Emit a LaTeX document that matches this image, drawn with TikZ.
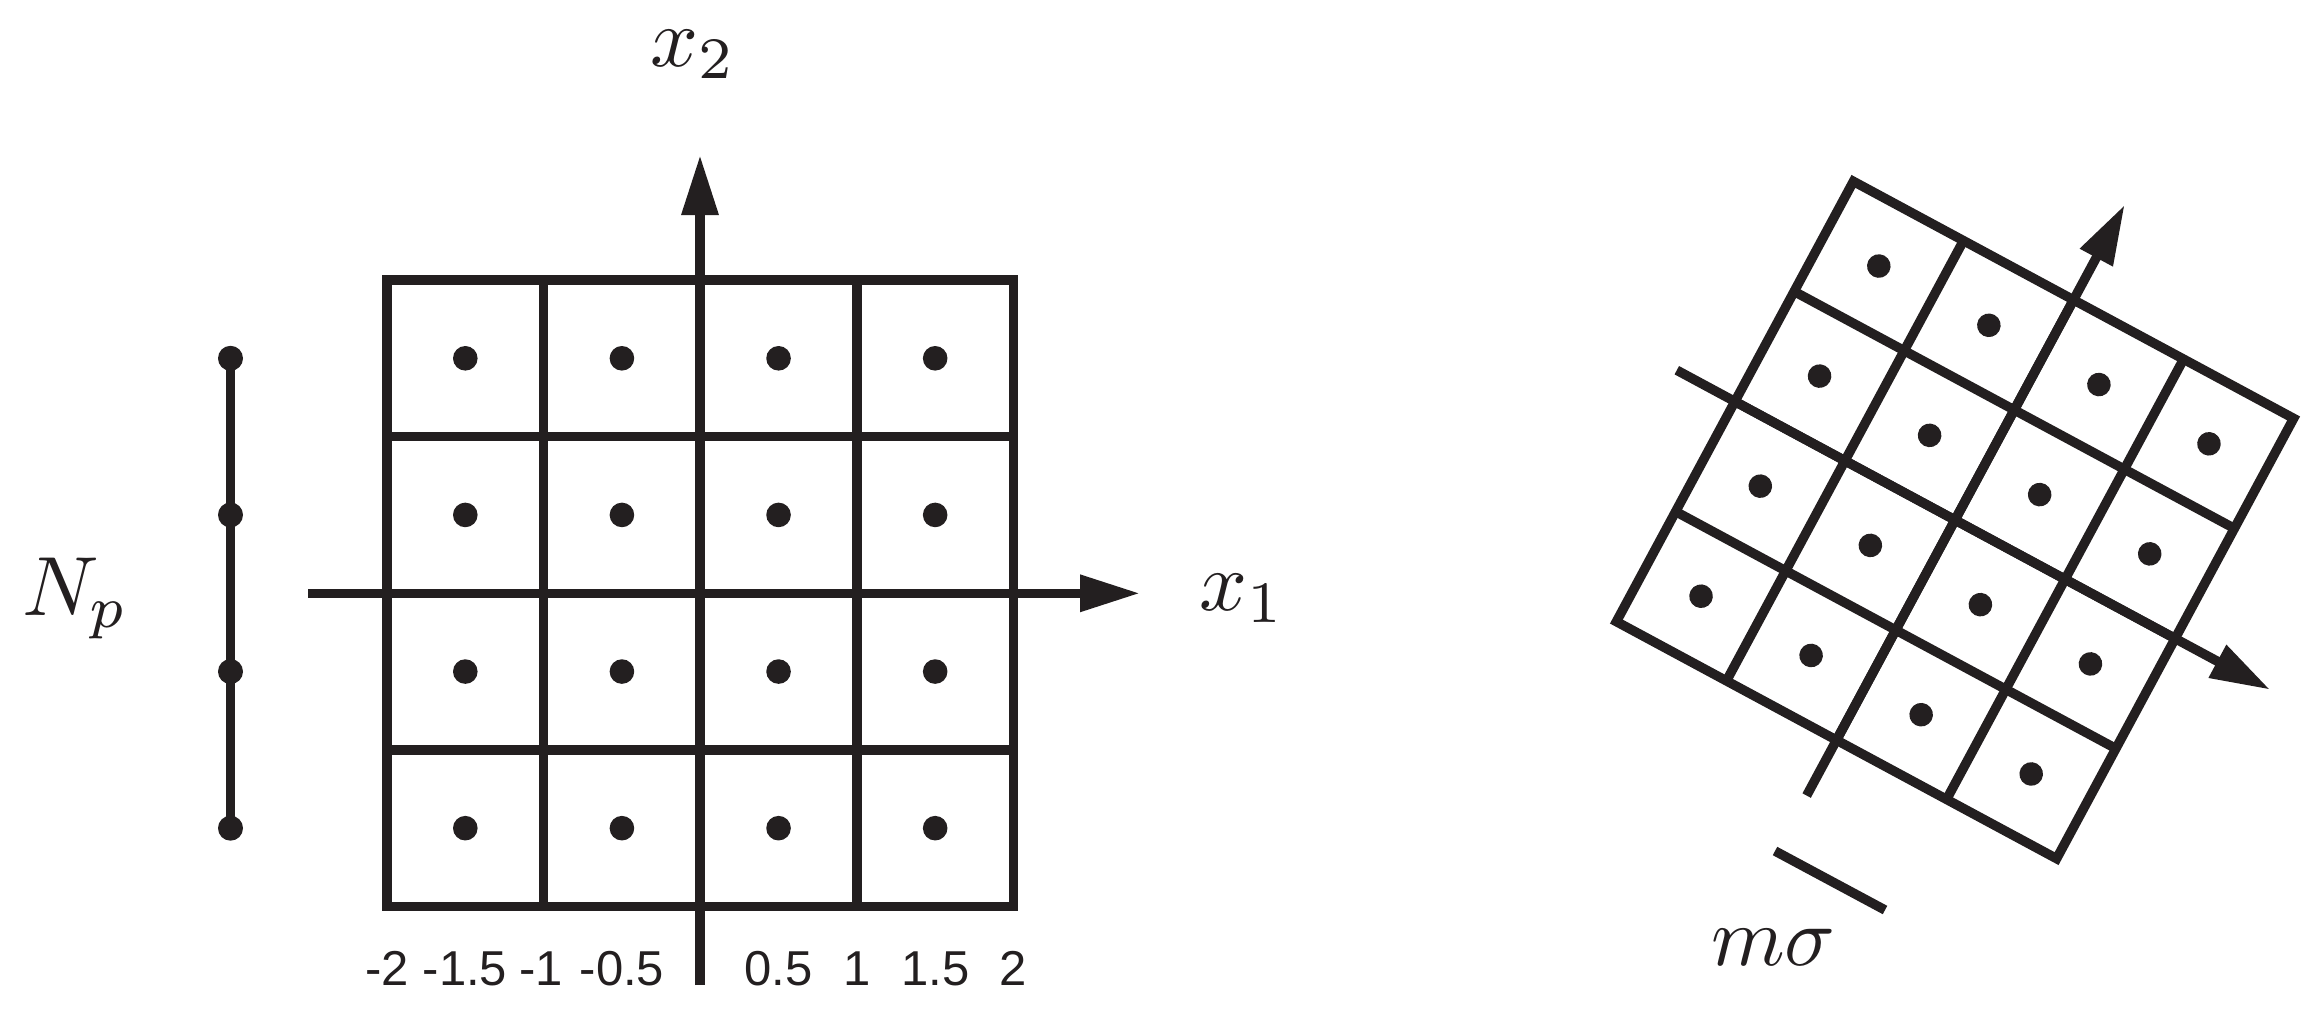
\documentclass[tikz,border=0pt]{standalone}
\usepackage{graphicx}
\usepackage{fontspec}
\newfontfamily\numfont{Liberation Sans}
\usetikzlibrary{arrows.meta}
\definecolor{ink}{RGB}{35,31,32}
\newcommand{\biglabel}[1]{\scalebox{8.4}{\fontsize{10}{12}\selectfont$#1$}}
\begin{document}
\begin{tikzpicture}[x=1pt,y=-1pt,
  gridline/.style={draw=ink, line width=9.5pt},
  axisarrow/.style={draw=ink, line width=9.5pt, -{Triangle[length=60pt,width=35pt]}},
  dot/.style={fill=ink},
  mathlabel/.style={text=ink, inner sep=0pt, anchor=base west},
  numlabel/.style={text=ink, inner sep=0pt, anchor=base, font=\numfont\fontsize{49}{58}\selectfont}]
\useasboundingbox (0,0) rectangle (2322,1023);

% ---------- left grid ----------
\draw[gridline] (387,280) rectangle (1013.5,906.5);
\foreach \i in {1,2,3} {
  \draw[gridline] ({387+156.625*\i},280) -- ({387+156.625*\i},906.5);
  \draw[gridline] (387,{280+156.625*\i}) -- (1013.5,{280+156.625*\i});
}
\foreach \i in {0,...,3} \foreach \j in {0,...,3}
  \fill[dot] ({465.3+156.625*\i},{358.3+156.625*\j}) circle (12.3);

% axes
\coordinate (x2s) at (700,985);
\coordinate (x2e) at (700,155);
\coordinate (x1s) at (308,593.3);
\coordinate (x1e) at (1140,593.3);
\draw[axisarrow] (x2s) -- (x2e);
\draw[axisarrow] (x1s) -- (x1e);

% N_p line
\coordinate (np1) at (230.5,358.3);
\coordinate (np4) at (230.5,828.2);
\draw[gridline] (np1) -- (np4);
\foreach \j in {0,...,3}
  \fill[dot] (230.5,{358.3+156.625*\j}) circle (12.5);

% labels
\node[mathlabel] (lx2) at (650,66) {\biglabel{x_2}};
\node[mathlabel] (lx1) at (1199,610) {\biglabel{x_1}};
\node[mathlabel] (lNp) at (22,615) {\biglabel{N_p}};
\node[mathlabel] (lms) at (1711,965) {\biglabel{m\sigma}};

\node[numlabel] (n1) at (387,985) {-2};
\node[numlabel] (n2) at (465,985) {-1.5};
\node[numlabel] (n3) at (541,985) {-1};
\node[numlabel] (n4) at (622,985) {-0.5};
\node[numlabel] (n5) at (778.5,985) {0.5};
\node[numlabel] (n6) at (857,985) {1};
\node[numlabel] (n7) at (935.5,985) {1.5};
\node[numlabel] (n8) at (1013.5,985) {2};

% ---------- rotated grid ----------
\begin{scope}[shift={(1955,520)}, rotate=-28.3]
  \draw[gridline] (-250,-250) rectangle (250,250);
  \foreach \k in {-125,0,125} {
    \draw[gridline] (\k,-250) -- (\k,250);
    \draw[gridline] (-250,\k) -- (250,\k);
  }
  \foreach \a in {-187.5,-62.5,62.5,187.5} \foreach \b in {-187.5,-62.5,62.5,187.5}
    \fill[dot] (\a,\b) circle (11.8);
  \coordinate (r1s) at (-316,0);
  \coordinate (r1e) at (358,0);
  \coordinate (r2s) at (0,313);
  \coordinate (r2e) at (0,-358);
  \draw[axisarrow] (r1s) -- (r1e);
  \draw[axisarrow] (r2s) -- (r2e);
\end{scope}

% m sigma bar
\coordinate (msa) at (1775,851);
\coordinate (msb) at (1885,910);
\draw[gridline] (msa) -- (msb);
\end{tikzpicture}
\end{document}
